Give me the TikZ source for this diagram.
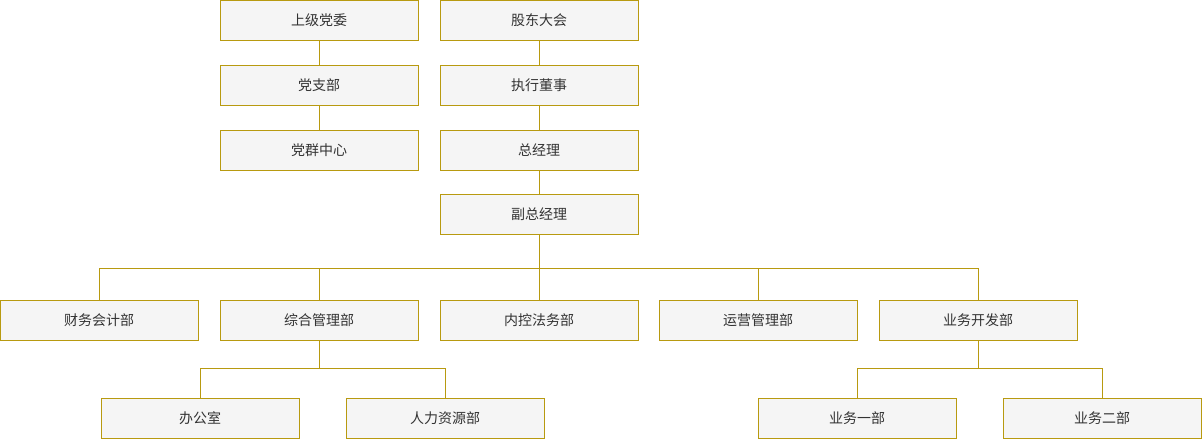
\documentclass[tikz,border=0pt]{standalone}
\usepackage{fontspec}
\setmainfont{Noto Sans CJK SC}
\usetikzlibrary{positioning}
\definecolor{gold}{HTML}{B89A10}
\definecolor{boxfill}{HTML}{F5F5F5}
\definecolor{txt}{HTML}{333333}
\tikzset{
		unit/.style={draw=gold, line width=1pt, fill=boxfill, minimum width=198pt, minimum height=40pt, inner sep=0pt, text=txt, font=\fontsize{14}{16}\selectfont},
		link/.style={draw=gold, line width=1pt}
	}
\begin{document}
\begin{tikzpicture}[x=1pt,y=-1pt]
    \useasboundingbox (0,0) rectangle (1202,439);

    % left column
    \node[unit] (pw) at (319,20) {上级党委};
    \node[unit] (pb) at (319,85) {党支部};
    \node[unit] (pc) at (319,150) {党群中心};

    % right column
    \node[unit] (gd) at (539,20) {股东大会};
    \node[unit] (ds) at (539,85) {执行董事};
    \node[unit] (gm) at (539,150) {总经理};
    \node[unit] (vm) at (539,214) {副总经理};

    % departments
    \node[unit] (d1) at (99,320) {财务会计部};
    \node[unit] (d2) at (319,320) {综合管理部};
    \node[unit] (d3) at (539,320) {内控法务部};
    \node[unit] (d4) at (758,320) {运营管理部};
    \node[unit] (d5) at (978,320) {业务开发部};

    % sub departments
    \node[unit] (s1) at (200,418) {办公室};
    \node[unit] (s2) at (445,418) {人力资源部};
    \node[unit] (s3) at (857,418) {业务一部};
    \node[unit] (s4) at (1102,418) {业务二部};

    % links
    \draw[link] (pw) -- (pb) (pb) -- (pc);
    \draw[link] (gd) -- (ds) (ds) -- (gm) (gm) -- (vm);
    \coordinate (bus) at (539,268);
    \draw[link] (vm) -- (bus);
    \foreach \d in {d1,d2,d3,d4,d5}
        \draw[link] (bus) -| (\d);
    \draw[link] (d2.south) -- ++(0,28) -| (s1);
    \draw[link] (d2.south) ++(0,28) -| (s2);
    \draw[link] (d5.south) -- ++(0,28) -| (s3);
    \draw[link] (d5.south) ++(0,28) -| (s4);
\end{tikzpicture}
\end{document}
